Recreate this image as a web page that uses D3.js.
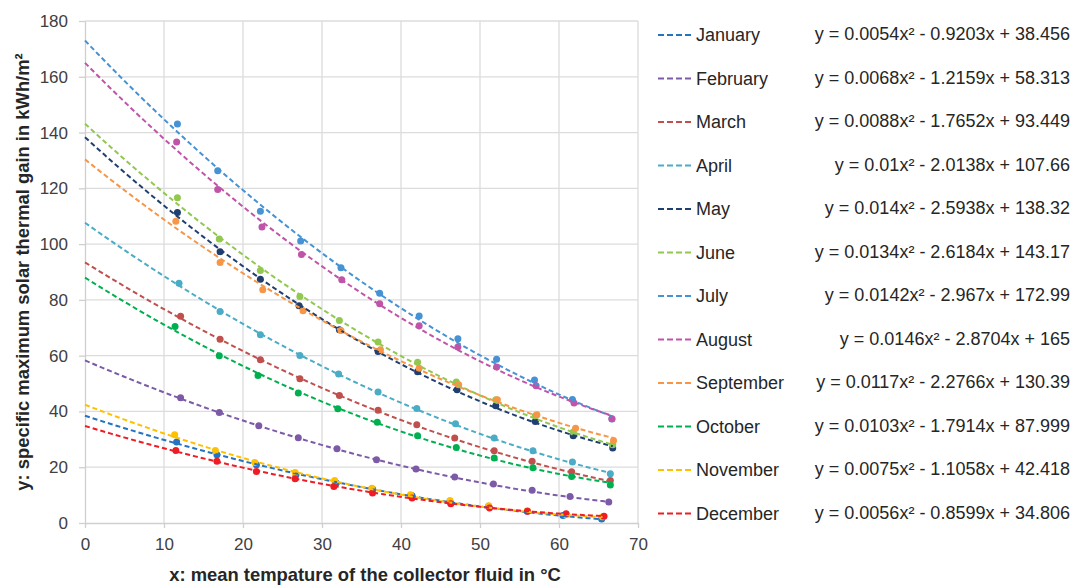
<!DOCTYPE html>
<html>
<head>
<meta charset="utf-8">
<title>Solar thermal gain</title>
<style>
  body { margin: 0; background: #fff; }
  text { font-family: "Liberation Sans", Arial, sans-serif; fill: #404040; }
  .grid line { stroke: #dcdcdc; stroke-width: 1.3; }
  .axis path, .axis line { stroke: #cfcfcf; stroke-width: 1.3; }
  .axis text { font-size: 17px; fill: #404040; font-family: "Liberation Sans", Arial, sans-serif; }
  .title { font-size: 18.4px; font-weight: bold; fill: #262626; }
  .leg { font-size: 18px; fill: #262626; }
</style>
</head>
<body>
<div id="chart"></div>
<script src="https://cdn.jsdelivr.net/npm/d3@7"></script>
<script>

var months = ["January", "February", "March", "April", "May", "June",
              "July", "August", "September", "October", "November", "December"];
var colors = ["#2474c0", "#7d5aa8", "#c0504d", "#4bacc6", "#1f3f70", "#92c850",
              "#4592d4", "#c054a8", "#f79646", "#00b050", "#ffc000", "#ee1c25"];

// trendline coefficients y = a x^2 + b x + c
var coefA = [0.0054, 0.0068, 0.0088, 0.01, 0.014, 0.0134, 0.0142, 0.0146, 0.0117, 0.0103, 0.0075, 0.0056];
var coefB = [-0.9203, -1.2159, -1.7652, -2.0138, -2.5938, -2.6184, -2.967, -2.8704, -2.2766, -1.7914, -1.1058, -0.8599];
var coefC = [38.456, 58.313, 93.449, 107.66, 138.32, 143.17, 172.99, 165, 130.39, 87.999, 42.418, 34.806];

// measured points, [x, y] per month
var janPts = [[11.6,29.0],[16.7,24.5],[21.7,20.9],[26.7,17.3],[31.8,14.3],[36.4,12.2],[41.4,9.8],[46.2,7.7],[51.1,6.0],[56.0,4.2],[60.5,2.7],[65.4,1.4]];
var febPts = [[12.1,44.9],[17.0,39.6],[22.0,34.9],[27.0,30.6],[31.9,26.6],[36.9,22.7],[41.9,19.4],[46.8,16.5],[51.7,14.0],[56.6,11.7],[61.4,9.5],[66.3,7.5]];
var marPts = [[12.1,74.1],[17.1,65.9],[22.2,58.5],[27.2,51.7],[32.2,45.7],[37.1,40.4],[42.0,35.2],[46.8,30.5],[51.8,25.9],[56.6,22.1],[61.6,18.4],[66.5,15.2]];
var aprPts = [[11.9,86.0],[17.1,75.8],[22.2,67.5],[27.2,60.1],[32.1,53.4],[37.1,47.0],[42.0,41.1],[46.9,35.6],[51.8,30.5],[56.7,25.9],[61.7,21.9],[66.5,17.7]];
var mayPts = [[11.7,111.3],[17.1,97.3],[22.2,87.4],[27.1,77.9],[32.2,69.3],[37.1,61.5],[42.1,54.2],[47.1,47.8],[52.0,42.0],[57.0,36.4],[61.8,31.3],[66.8,26.9]];
var junPts = [[11.7,116.6],[17.0,101.8],[22.2,90.5],[27.2,81.2],[32.2,72.6],[37.1,64.9],[42.1,57.6],[47.0,50.6],[52.0,44.2],[57.0,38.5],[61.8,32.6],[66.8,28.1]];
var julPts = [[11.7,143.1],[16.8,126.3],[22.2,111.8],[27.3,101.1],[32.4,91.5],[37.3,82.4],[42.3,74.2],[47.2,66.1],[52.1,58.7],[56.9,51.3],[61.7,44.3],[66.7,37.3]];
var augPts = [[11.6,136.6],[16.8,119.6],[22.4,106.1],[27.4,96.3],[32.5,87.2],[37.3,78.6],[42.3,70.7],[47.2,63.1],[52.1,55.9],[57.1,49.2],[61.9,43.0],[66.7,37.4]];
var sepPts = [[11.5,108.2],[17.1,93.4],[22.5,83.6],[27.6,76.1],[32.4,69.0],[37.4,62.1],[42.3,55.5],[47.3,49.6],[52.2,44.2],[57.2,38.8],[62.1,34.0],[66.9,29.6]];
var octPts = [[11.4,70.5],[17.0,60.0],[21.9,52.9],[27.0,46.6],[32.0,41.0],[37.0,36.1],[42.1,31.3],[47.0,27.1],[51.8,23.3],[56.7,19.8],[61.6,16.7],[66.5,13.6]];
var novPts = [[11.35,31.6],[16.5,26.0],[21.5,21.7],[26.6,18.1],[31.6,15.2],[36.3,12.5],[41.2,10.1],[46.2,8.1],[51.1,6.2],[56.0,4.4],[60.9,3.0],[65.5,2.2]];
var decPts = [[11.5,26.0],[16.7,22.1],[21.7,18.5],[26.6,15.9],[31.5,13.1],[36.4,10.8],[41.4,9.0],[46.3,6.9],[51.2,5.4],[56.0,4.2],[60.9,3.3],[65.7,2.4]];
var points = [janPts, febPts, marPts, aprPts, mayPts, junPts, julPts, augPts, sepPts, octPts, novPts, decPts];

var xTicks = [0, 10, 20, 30, 40, 50, 60, 70];
var yTicks = [0, 20, 40, 60, 80, 100, 120, 140, 160, 180];

var W = 1075, H = 587;
var mLeft = 85, mTop = 21, plotW = 553, plotH = 502;

var svg = d3.select("#chart").append("svg").attr("width", W).attr("height", H);

var x = d3.scaleLinear().domain([0, 70]).range([mLeft, mLeft + plotW]);
var y = d3.scaleLinear().domain([0, 180]).range([mTop + plotH, mTop]);

// grid
var grid = svg.append("g").attr("class", "grid");
grid.selectAll(".gy").data(yTicks.slice(1)).enter().append("line")
    .attr("x1", mLeft).attr("x2", mLeft + plotW)
    .attr("y1", function(d) { return y(d); }).attr("y2", function(d) { return y(d); });
grid.selectAll(".gx").data(xTicks.slice(1)).enter().append("line")
    .attr("y1", mTop).attr("y2", mTop + plotH)
    .attr("x1", function(d) { return x(d); }).attr("x2", function(d) { return x(d); });

// axes
svg.append("g").attr("class", "axis")
    .attr("transform", "translate(" + mLeft + ",0)")
    .call(d3.axisLeft(y).tickValues(yTicks).tickSize(6).tickSizeOuter(0).tickPadding(11))
    .call(function(g) { g.selectAll("text").attr("font-size", null).attr("font-family", null); });
svg.append("g").attr("class", "axis")
    .attr("transform", "translate(0," + (mTop + plotH) + ")")
    .call(d3.axisBottom(x).tickValues(xTicks).tickSize(5).tickSizeOuter(0).tickPadding(10))
    .call(function(g) { g.selectAll("text").attr("font-size", null).attr("font-family", null); });

// axis titles
svg.append("text").attr("class", "title")
    .attr("x", 365).attr("y", 581).attr("text-anchor", "middle")
    .text("x: mean tempature of the collector fluid in °C");
svg.append("text").attr("class", "title")
    .attr("transform", "translate(29,272) rotate(-90)")
    .attr("text-anchor", "middle")
    .text("y: specific maximum solar thermal gain in kWh/m²");

// series
var line = d3.line()
    .x(function(d) { return x(d[0]); })
    .y(function(d) { return y(d[1]); });

months.forEach(function(m, i) {
    svg.append("g").selectAll("circle").data(points[i]).enter().append("circle")
        .attr("cx", function(d) { return x(d[0]); })
        .attr("cy", function(d) { return y(d[1]); })
        .attr("r", 3.5)
        .attr("fill", colors[i]);
});

months.forEach(function(m, i) {
    var xEnd = d3.max(points[i], function(d) { return d[0]; });
    var curve = d3.range(0, xEnd + 0.001, xEnd / 80).map(function(t) {
        return [t, coefA[i] * t * t + coefB[i] * t + coefC[i]];
    });
    svg.append("path")
        .datum(curve)
        .attr("d", line)
        .attr("fill", "none")
        .attr("stroke", colors[i])
        .attr("stroke-width", 2)
        .attr("stroke-dasharray", "5,3");
});

// legend
var leg = svg.append("g");
months.forEach(function(m, i) {
    var ly = 35 + i * 43.5;
    leg.append("line")
        .attr("x1", 658).attr("x2", 693)
        .attr("y1", ly).attr("y2", ly)
        .attr("stroke", colors[i]).attr("stroke-width", 2)
        .attr("stroke-dasharray", "6,3");
    leg.append("text").attr("class", "leg")
        .attr("x", 696).attr("y", ly + 6)
        .text(m);
    leg.append("text").attr("class", "leg")
        .attr("x", 1070).attr("y", ly + 5).attr("text-anchor", "end")
        .text("y = " + coefA[i] + "x² - " + (-coefB[i]) + "x + " + coefC[i]);
});

</script>
</body>
</html>
